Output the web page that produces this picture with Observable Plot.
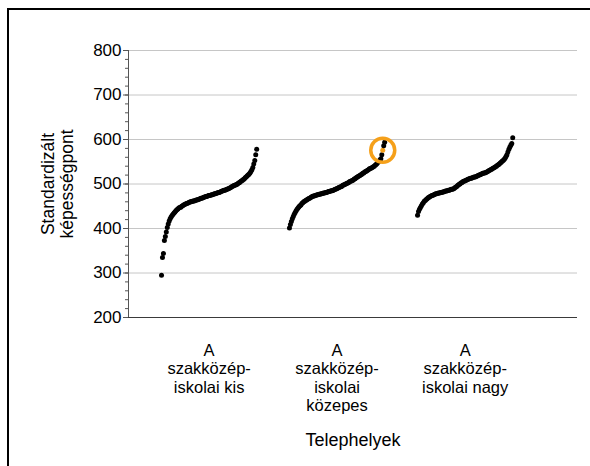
<!DOCTYPE html>
<html><head><meta charset="utf-8">
<script src="https://cdn.jsdelivr.net/npm/d3@7"></script>
<script src="https://cdn.jsdelivr.net/npm/@observablehq/plot@0.6"></script>
<style>
html,body{margin:0;padding:0;background:#fff;}
#wrap{position:relative;width:590px;height:466px;overflow:hidden;font-family:"Liberation Sans",Arial,sans-serif;}
#wrap svg{display:block;}
#border{position:absolute;left:7px;top:8px;width:700px;height:600px;border-left:2px solid #000;border-top:2px solid #000;pointer-events:none;}
</style></head><body><div id="wrap"><div id="border"></div></div>
<script>
// Categories (Telephelyek)
const categories = ["A szakközép-iskolai kis", "A szakközép-iskolai közepes", "A szakközép-iskolai nagy"];
const tickLabels = ["A\nszakközép-\niskolai kis", "A\nszakközép-\niskolai\nközepes", "A\nszakközép-\niskolai nagy"];

// Sorted standardized scores of each site
const scoresKis = [295,335,344,373,382,392,402,410,417,422,426,429,432,435,437,440,442,444,446,447,
  448,450,451,453,454,455,456,457,458,459,460,460,461,462,462,463,464,464,465,466,
  467,468,468,469,470,471,472,472,473,474,474,475,476,476,477,478,478,479,480,481,
  481,482,483,484,485,486,486,487,488,489,490,491,492,494,495,496,497,498,499,500,
  502,503,505,507,508,510,511,514,516,518,520,522,525,528,532,537,545,553,566,578];
const scoresKozepes = [401,409,416,422,427,432,436,440,443,446,449,451,453,456,458,460,461,463,464,466,
  467,468,469,471,472,473,473,474,475,476,476,477,477,478,478,479,480,480,481,481,
  482,483,483,484,485,485,486,487,488,489,490,491,492,493,494,495,497,498,499,500,
  501,502,503,505,506,507,508,509,511,512,514,515,517,518,519,521,522,524,525,527,
  528,529,531,532,534,535,536,537,539,540,542,544,546,549,551,554,557,566,576,586,594];
const scoresNagy = [430,438,443,447,451,455,458,461,463,465,467,469,470,472,473,474,475,476,477,478,
  478,479,480,480,481,481,482,482,483,484,484,485,486,486,487,488,488,489,490,492,
  493,495,497,499,500,502,503,505,506,507,508,509,510,511,512,513,513,514,515,516,
  516,517,518,519,520,521,522,523,524,525,525,526,527,528,530,531,532,533,535,536,
  537,539,540,542,543,545,547,549,551,553,555,558,562,566,572,578,583,587,591,604];

// Highlighted (circled) observation
const highlightCategory = "A szakközép-iskolai közepes";
const highlightScore = 576;

// Axis ticks and titles
const yTicks = [200,300,400,500,600,700,800];
const yGridTicks = [300,400,500,600,700,800];
const yMinorTicks = [200,220,240,260,280,300,320,340,360,380,400,420,440,460,480,500,520,540,560,580,600,620,640,660,680,700,720,740,760,780,800];
const yTitle = "Standardizált\nképességpont";
const xTitle = "Telephelyek";

// ---- layout (not data) ----
const groupStart = [0.294, 1.434, 2.575];
const groupSpan = 0.848;
const series = [scoresKis, scoresKozepes, scoresNagy];

const points = [];
series.forEach((vals, g) => {
  vals.forEach((v, i) => {
    points.push({
      cat: categories[g],
      pos: groupStart[g] + groupSpan * i / (vals.length - 1),
      score: v,
      hl: categories[g] === highlightCategory && v === highlightScore
    });
  });
});
const hlPoints = points.filter(d => d.hl);
const catTable = categories.map((c, i) => ({cat: c, center: groupStart[i] + groupSpan / 2, label: tickLabels[i]}));

const chart = Plot.plot({
  width: 590,
  height: 466,
  marginLeft: 128,
  marginRight: 13,
  marginTop: 50,
  marginBottom: 149,
  style: {fontFamily: '"Liberation Sans", Arial, sans-serif', color: "#000", background: "#fff"},
  x: {domain: [0, 4], axis: null},
  y: {domain: [200, 800]},
  marks: [
    Plot.gridY({ticks: yGridTicks, stroke: "#c6c6c6", strokeOpacity: 1, strokeWidth: 1}),
    Plot.ruleY([200], {stroke: "#3a3a3a", strokeWidth: 1.2}),
    Plot.ruleX([0], {y1: 200, y2: 800, stroke: "#555", strokeWidth: 1}),
    Plot.axisY({ticks: yMinorTicks, tickSize: 3, tickFormat: () => "", stroke: "#555"}),
    Plot.axisY({ticks: yTicks, tickSize: 5, tickPadding: 2, fontSize: 17, stroke: "#555", fill: "#000", label: null}),
    Plot.text([{y: 500, t: yTitle}], {y: "y", text: "t", frameAnchor: "left", textAnchor: "middle", dx: -71, rotate: -90, fontSize: 17.5, lineHeight: 1.1, fill: "#000"}),
    Plot.dot(points, {x: "pos", y: "score", r: 2.5, fill: d => d.hl ? "#f5a01a" : "#000", stroke: "none"}),
    Plot.dot(hlPoints, {x: "pos", y: "score", r: 12, fill: "none", stroke: "#f5a01a", strokeWidth: 3.5}),
    Plot.text(catTable, {x: "center", text: "label", frameAnchor: "bottom", lineAnchor: "top", dy: 25, fontSize: 16.5, lineHeight: 1.12, fill: "#000"}),
    Plot.text([xTitle], {text: d => d, frameAnchor: "bottom", lineAnchor: "middle", dy: 123, fontSize: 18, fill: "#000"})
  ]
});
document.getElementById("wrap").insertBefore(chart, document.getElementById("border"));
</script>
</body></html>
